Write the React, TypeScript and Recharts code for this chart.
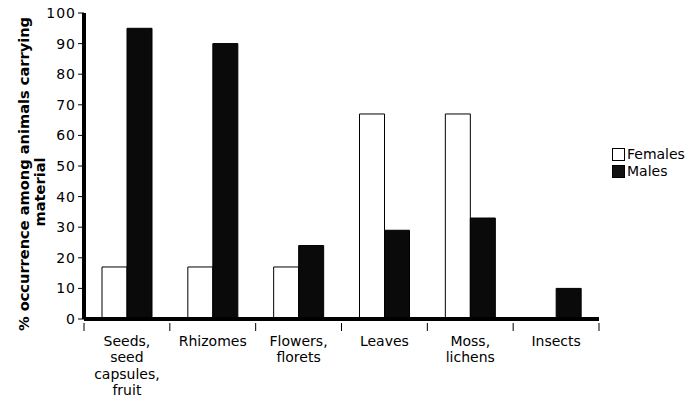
import React from "react";
import { BarChart, Bar, XAxis, YAxis } from "recharts";

const categories = [
  "Seeds, seed capsules, fruit",
  "Rhizomes",
  "Flowers, florets",
  "Leaves",
  "Moss, lichens",
  "Insects",
];
const labelLines = [
  ["Seeds,", "seed", "capsules,", "fruit"],
  ["Rhizomes"],
  ["Flowers,", "florets"],
  ["Leaves"],
  ["Moss,", "lichens"],
  ["Insects"],
];
const females = [17, 17, 17, 67, 67, 0];
const males = [95, 90, 24, 29, 33, 10];
const yTicks = [0, 10, 20, 30, 40, 50, 60, 70, 80, 90, 100];

const data = categories.map((name, i) => ({
  name,
  Females: females[i],
  Males: males[i],
}));

const FONT = "'DejaVu Sans', Verdana, sans-serif";

// category ticks sit on the boundaries, labels in the middle
function CategoryTick(props: any) {
  const { x, y, index } = props;
  const band = 515 / categories.length;
  const lines = labelLines[index] || [];
  return (
    <g>
      <line x1={x - band / 2} x2={x - band / 2} y1={y - 4} y2={y + 4} stroke="#000" />
      {index === categories.length - 1 && (
        <line x1={x + band / 2} x2={x + band / 2} y1={y - 4} y2={y + 4} stroke="#000" />
      )}
      <text x={x} y={y + 19} textAnchor="middle" fontSize={14} fontFamily={FONT} fill="#000">
        {lines.map((l: string, i: number) => (
          <tspan key={i} x={x} dy={i === 0 ? 0 : 16.3}>
            {l}
          </tspan>
        ))}
      </text>
    </g>
  );
}

function LegendBox() {
  return (
    <div
      style={{
        position: "absolute",
        left: 612,
        top: 146,
        fontFamily: FONT,
        fontSize: 14,
        color: "#000",
        lineHeight: "17px",
      }}
    >
      <div style={{ display: "flex", alignItems: "center" }}>
        <span style={{ width: 11, height: 11, border: "1px solid #000", background: "#fff", marginRight: 2 }} />
        Females
      </div>
      <div style={{ display: "flex", alignItems: "center" }}>
        <span style={{ width: 11, height: 11, border: "1px solid #000", background: "#111", marginRight: 2 }} />
        Males
      </div>
    </div>
  );
}

export default function App() {
  return (
    <div style={{ position: "absolute", left: 0, top: 0, width: 700, height: 398, background: "#fff" }}>
      <BarChart
        width={700}
        height={398}
        data={data}
        margin={{ top: 13, right: 101, bottom: 0, left: 0 }}
        barSize={25}
        barGap={0}
      >
        <XAxis
          dataKey="name"
          axisLine={{ stroke: "#000", strokeWidth: 4 }}
          tickLine={false}
          tick={<CategoryTick />}
          interval={0}
          height={79}
        />
        <YAxis
          width={84}
          domain={[0, 100]}
          ticks={yTicks}
          interval={0}
          axisLine={{ stroke: "#000", strokeWidth: 4 }}
          tickLine={{ stroke: "#000" }}
          tickSize={6}
          tick={{ fontSize: 14, fontFamily: FONT, fill: "#000", letterSpacing: 1 }}
          label={() => (
            <g>
              <text
                transform="translate(29,174) rotate(-90)"
                textAnchor="middle"
                fontSize={14.6}
                fontWeight="bold"
                fontFamily={FONT}
                fill="#000"
              >
                % occurrence among animals carrying
              </text>
              <text
                transform="translate(45,192) rotate(-90)"
                textAnchor="middle"
                fontSize={14.6}
                fontWeight="bold"
                fontFamily={FONT}
                fill="#000"
              >
                material
              </text>
            </g>
          )}
        />
        <Bar dataKey="Females" fill="#fff" stroke="#000" strokeWidth={1} isAnimationActive={false} />
        <Bar dataKey="Males" fill="#0a0a0a" stroke="#000" strokeWidth={1} isAnimationActive={false} />
      </BarChart>
      <LegendBox />
    </div>
  );
}
